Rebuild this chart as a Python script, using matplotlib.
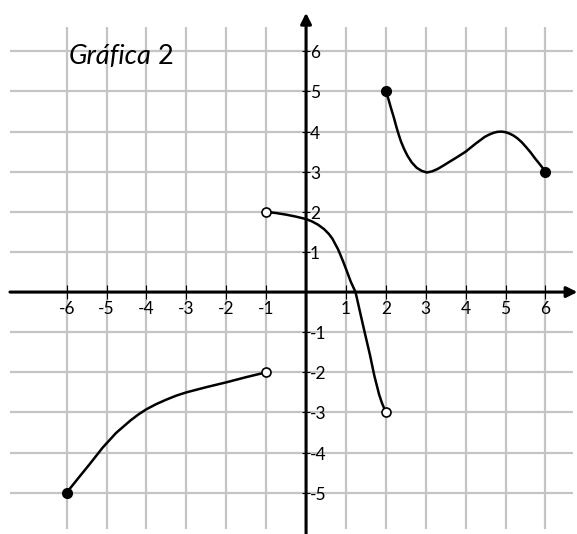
import matplotlib
matplotlib.use("Agg")
import matplotlib.pyplot as plt

plt.rcParams['font.family'] = ['Lato', 'DejaVu Sans']

# values
piece1_x = [-6, -5.71, -5.4, -5.1, -4.76, -4.4, -4.2, -4.0, -3.75, -3.5, -3.25, -3,
            -2.5, -2, -1.5, -1]
piece1_y = [-5, -4.64, -4.26, -3.88, -3.51, -3.2, -3.05, -2.92, -2.79, -2.68, -2.58, -2.5,
            -2.37, -2.25, -2.12, -2]

piece2_x = [-1, -0.75, -0.5, -0.25, 0, 0.15, 0.3, 0.45, 0.57, 0.66, 0.73, 0.8, 0.86,
            0.93, 1.0, 1.06, 1.12, 1.18, 1.24, 1.36, 1.48, 1.6, 1.71, 1.83, 1.9, 1.95, 2]
piece2_y = [2, 1.97, 1.93, 1.88, 1.82, 1.76, 1.68, 1.57, 1.45, 1.33, 1.2, 1.07, 0.93,
            0.76, 0.58, 0.42, 0.26, 0.13, 0, -0.53, -1.05, -1.56, -2.08, -2.55, -2.76, -2.88, -3]

piece3_x = [2, 2.07, 2.13, 2.2, 2.26, 2.32, 2.38, 2.46, 2.54, 2.65, 2.77, 2.9, 3.03, 3.16,
            3.3, 3.42, 3.55, 3.78, 4, 4.25, 4.48, 4.6, 4.7, 4.8, 4.9, 5.0, 5.1, 5.2, 5.3,
            5.4, 5.5, 5.62, 5.74, 5.87, 6]
piece3_y = [5, 4.79, 4.58, 4.35, 4.13, 3.93, 3.75, 3.56, 3.4, 3.23, 3.1, 3.02, 2.98, 3.01,
            3.07, 3.14, 3.22, 3.36, 3.5, 3.7, 3.87, 3.93, 3.97, 3.995, 4.0, 3.985, 3.95, 3.9, 3.83,
            3.74, 3.63, 3.49, 3.33, 3.17, 3]

closed_x = [-6, 2, 6]
closed_y = [-5, 5, 3]
open_x = [-1, -1, 2]
open_y = [-2, 2, -3]

x_ticks = [-6, -5, -4, -3, -2, -1, 1, 2, 3, 4, 5, 6]
y_ticks = [6, 5, 4, 3, 2, 1, -1, -2, -3, -4, -5]
grid_x = list(range(-6, 7))
grid_y = list(range(-5, 7))

fig = plt.figure(figsize=(5.77, 5.34), dpi=100)
ax = fig.add_axes([0, 0, 1, 1])
ax.set_xlim(-7.67, 6.79)
ax.set_ylim(-6.03, 7.28)
ax.axis('off')

# grid
ax.vlines(grid_x, -5.91, 6.61, color='#c4c4c4', lw=1.6, zorder=1)
ax.hlines(grid_y, -7.42, 6.69, color='#c4c4c4', lw=1.6, zorder=1)

# axes with arrows
ax.annotate('', xy=(6.8, 0), xytext=(-7.42, 0), annotation_clip=False,
            arrowprops=dict(arrowstyle='-|>', lw=2.2, color='k', mutation_scale=16,
                            shrinkA=0, shrinkB=0), zorder=3)
ax.annotate('', xy=(0, 6.96), xytext=(0, -6.1), annotation_clip=False,
            arrowprops=dict(arrowstyle='-|>', lw=2.2, color='k', mutation_scale=16,
                            shrinkA=0, shrinkB=0), zorder=3)
ax.vlines(x_ticks, -0.17, 0.17, color='k', lw=0.8, zorder=3)
ax.hlines(y_ticks, -0.1, 0.1, color='k', lw=0.8, zorder=3)

# tick labels
for v in x_ticks:
    ax.text(v, -0.43, str(v), ha='center', va='center', fontsize=12.5)
for v in y_ticks:
    ax.text(0.1, v - 0.05, str(v), ha='left', va='center', fontsize=12.5)

# pieces of the function
for xs, ys in [(piece1_x, piece1_y), (piece2_x, piece2_y), (piece3_x, piece3_y)]:
    ax.plot(xs, ys, color='k', lw=1.8, solid_joinstyle='round',
            solid_capstyle='round', zorder=4)
ax.plot(closed_x, closed_y, 'o', color='k', ms=7, zorder=5)
ax.plot(open_x, open_y, 'o', mfc='white', mec='k', mew=1.2, ms=6.5, zorder=5)

# title
t = ax.text(-5.96, 5.86, 'Gráfica', style='italic', fontsize=19.5, ha='left', va='center')
ax.annotate(' 2', xy=(1, 0.5), xycoords=t, va='center', ha='left', fontsize=19.5)

fig.savefig('out.png', dpi=100)
